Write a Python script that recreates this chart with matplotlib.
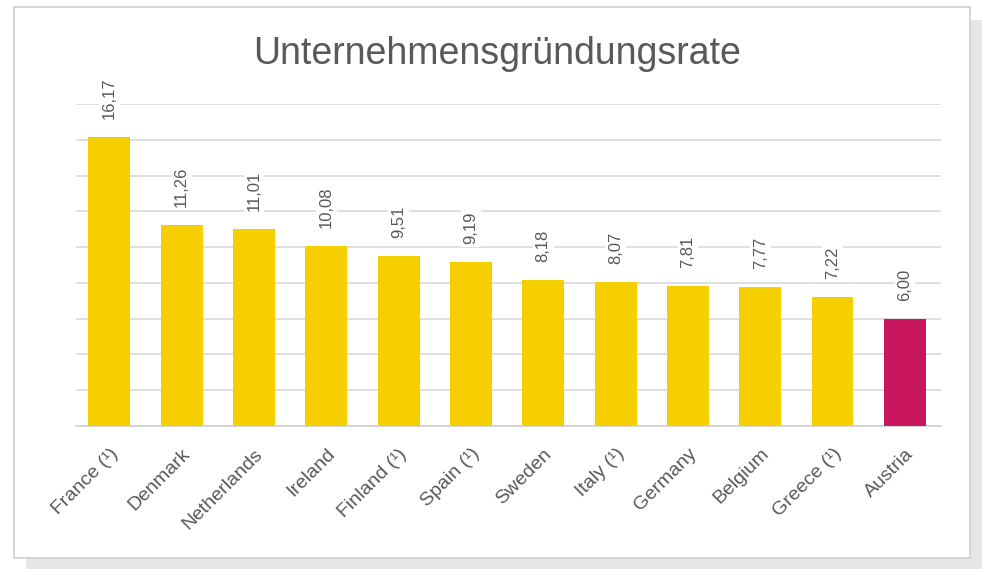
import matplotlib.pyplot as plt
from matplotlib.patches import Rectangle

countries = ["France (¹)", "Denmark", "Netherlands", "Ireland", "Finland (¹)", "Spain (¹)",
             "Sweden", "Italy (¹)", "Germany", "Belgium", "Greece (¹)", "Austria"]
rates = [16.17, 11.26, 11.01, 10.08, 9.51, 9.19, 8.18, 8.07, 7.81, 7.77, 7.22, 6.00]
highlight = "Austria"

YELLOW = "#F5CF00"
RED = "#C9175F"
TEXT = "#595959"

fig = plt.figure(figsize=(9.82, 5.69), dpi=100)
fig.patch.set_facecolor("white")

# card background with shadow
fig.patches.append(Rectangle((26 / 982, 0), 956 / 982, 549 / 569, transform=fig.transFigure,
                             facecolor="#e6e6e6", edgecolor="none", zorder=0))
fig.patches.append(Rectangle((14 / 982, 11 / 569), 956 / 982, 551 / 569, transform=fig.transFigure,
                             facecolor="white", edgecolor="#d0d0d0", linewidth=1.2, zorder=1))

ax = fig.add_axes([76 / 982, 143 / 569, 865 / 982, 322 / 569])
ax.set_zorder(5)
ax.set_facecolor("none")
x = range(len(countries))
colors = [RED if c == highlight else YELLOW for c in countries]
ax.bar(x, rates, width=0.58, color=colors, zorder=3)

ax.set_ylim(0, 18)
ax.set_xlim(-0.46, 11.5)
ax.set_yticks(range(0, 19, 2))
ax.yaxis.grid(True, color="#d9d9d9", linewidth=1.2, zorder=0)
ax.set_axisbelow(True)
ax.tick_params(axis="y", length=0, labelleft=False)
ax.tick_params(axis="x", length=0, pad=14)
for s in ["top", "right", "left"]:
    ax.spines[s].set_visible(False)
ax.spines["bottom"].set_color("#d0d0d0")
ax.spines["bottom"].set_linewidth(1.2)

ax.set_xticks(list(x))
ax.set_xticklabels(countries, rotation=45, ha="right", rotation_mode="anchor",
                   fontsize=14, color=TEXT, family="Liberation Sans")

for i, v in enumerate(rates):
    ax.text(i, v + 1.0, f"{v:.2f}".replace(".", ","), rotation=90, ha="center", va="bottom",
            fontsize=12, color=TEXT, family="Liberation Sans", zorder=4,
            bbox=dict(facecolor="white", edgecolor="none", pad=2))

fig.text(497 / 982, 515 / 569, "Unternehmensgründungsrate", ha="center", va="center",
         fontsize=27, color=TEXT, family="Liberation Sans")

fig.savefig("out.png", dpi=100)
